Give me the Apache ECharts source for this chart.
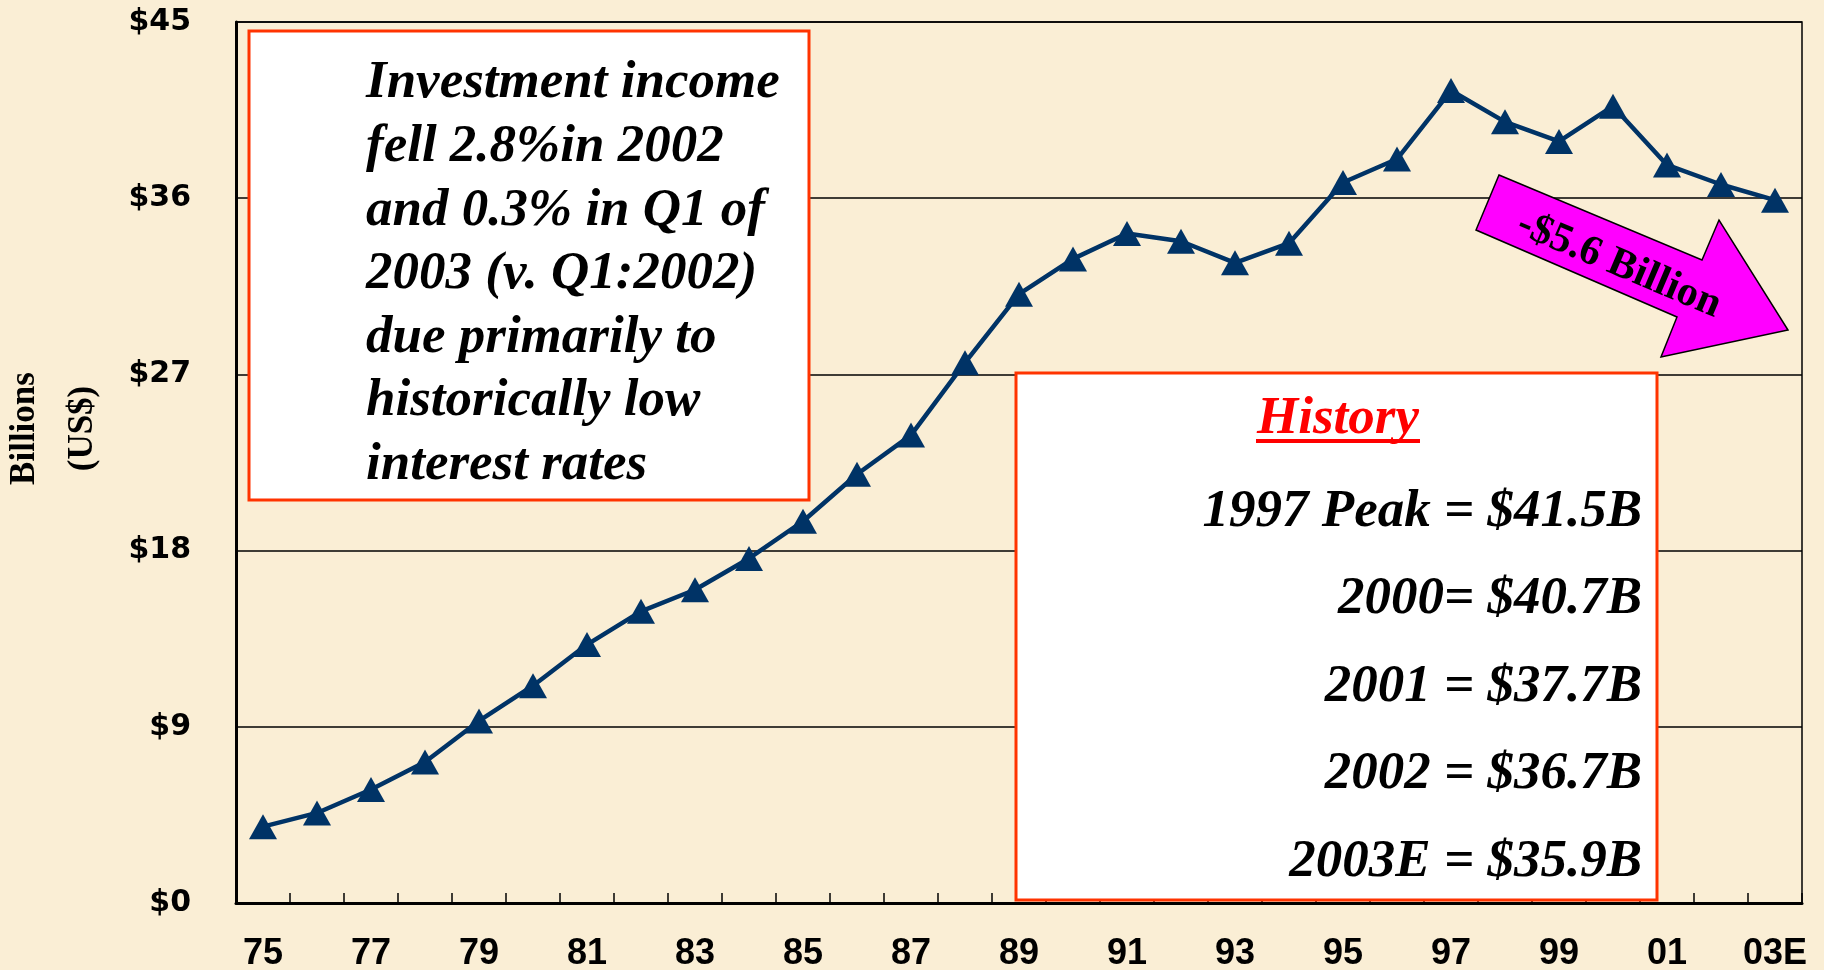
<!DOCTYPE html>
<html>
<head>
<meta charset="utf-8">
<title>Investment income</title>
<script src="https://cdn.jsdelivr.net/npm/echarts@6/dist/echarts.min.js"></script>
<style>
    html, body { margin: 0; padding: 0; background: #faeed5; }
    #chart { width: 1824px; height: 970px; }
</style>
</head>
<body>
<div id="chart"></div>
<script>
// years on the x axis
var years = ['75', '76', '77', '78', '79', '80', '81', '82', '83', '84', '85', '86', '87', '88', '89',
    '90', '91', '92', '93', '94', '95', '96', '97', '98', '99', '00', '01', '02', '03E'];
// investment income, billions US$
var income = [3.9, 4.6, 5.8, 7.2, 9.3, 11.1, 13.2, 14.9, 16.0, 17.6, 19.5, 21.9, 23.9, 27.6, 31.1,
    32.9, 34.2, 33.8, 32.7, 33.7, 36.8, 38.0, 41.5, 39.9, 38.9, 40.7, 37.7, 36.7, 35.9];
// y axis ticks
var yTicks = [0, 9, 18, 27, 36, 45];

// text of the two boxes
var noteLines = ['Investment income', 'fell 2.8%in 2002', 'and 0.3% in Q1 of', '2003 (v. Q1:2002)',
    'due primarily to', 'historically low', 'interest rates'];
var historyLines = ['1997 Peak = $41.5B', '2000= $40.7B', '2001 = $37.7B', '2002 = $36.7B', '2003E = $35.9B'];

var chart = echarts.init(document.getElementById('chart'));

var serifBI = 'italic bold 53px "Liberation Serif", "Times New Roman", serif';

// history lines, right aligned
var historyEls = [];
for (var i = 0; i < historyLines.length; i++) {
    historyEls.push({
        type: 'text',
        z: 110,
        style: {
            text: historyLines[i],
            x: 1642,
            y: 512 + i * 87.5,
            font: serifBI,
            fill: '#000',
            align: 'right',
            verticalAlign: 'middle',
            textAlign: 'right',
            textVerticalAlign: 'middle'
        }
    });
}

var option = {
    backgroundColor: '#faeed5',
    animation: false,
    grid: {
        left: 236,
        right: 22,
        top: 22,
        bottom: 67,
        outerBoundsMode: 'none',
        containLabel: false,
        show: true,
        borderColor: '#000',
        borderWidth: 1.5
    },
    xAxis: {
        type: 'category',
        data: years,
        boundaryGap: true,
        axisLine: { lineStyle: { color: '#000', width: 3 } },
        axisTick: { show: true, inside: true, length: 10, interval: 0, lineStyle: { color: '#000', width: 1.5 } },
        axisLabel: {
            interval: 1,
            margin: 33,
            color: '#000',
            fontFamily: '"Liberation Sans", Arial, sans-serif',
            fontWeight: 'bold',
            fontSize: 36,
            lineHeight: 36
        }
    },
    yAxis: {
        type: 'value',
        min: yTicks[0],
        max: yTicks[yTicks.length - 1],
        interval: yTicks[1] - yTicks[0],
        name: 'Billions\n(US$)',
        nameLocation: 'middle',
        nameRotate: 90,
        nameGap: 124,
        nameTextStyle: {
            color: '#000',
            fontFamily: '"Liberation Serif", "Times New Roman", serif',
            fontWeight: 'bold',
            fontSize: 35,
            lineHeight: 58,
            // lift the name a little above the axis middle
            padding: [0, 0, 0, 68]
        },
        axisLine: { show: true, lineStyle: { color: '#000', width: 3 } },
        axisTick: { show: false },
        splitLine: { lineStyle: { color: '#000', width: 1.5 } },
        axisLabel: {
            margin: 45,
            color: '#000',
            fontFamily: '"DejaVu Sans", sans-serif',
            fontWeight: 'bold',
            fontSize: 30,
            formatter: function (v) { return '$' + v; }
        }
    },
    series: [{
        name: 'Investment income',
        type: 'line',
        data: income,
        z: 5,
        symbol: 'triangle',
        symbolSize: [28, 25],
        itemStyle: { color: '#003366' },
        lineStyle: { color: '#003366', width: 4.5 }
    }],
    graphic: [
        // left note box
        {
            type: 'rect',
            z: 100,
            shape: { x: 249, y: 31, width: 560, height: 469 },
            style: { fill: '#fff', stroke: '#ff3300', lineWidth: 3 }
        },
        {
            type: 'text',
            z: 110,
            style: {
                text: noteLines.join('\n'),
                x: 366,
                y: 52,
                font: serifBI,
                lineHeight: 63.6,
                fill: '#000',
                align: 'left',
                verticalAlign: 'top',
                textAlign: 'left',
                textVerticalAlign: 'top'
            }
        },
        // history box
        {
            type: 'rect',
            z: 100,
            shape: { x: 1016, y: 373, width: 641, height: 527 },
            style: { fill: '#fff', stroke: '#ff3300', lineWidth: 3 }
        },
        {
            type: 'text',
            z: 110,
            style: {
                text: 'History',
                x: 1338,
                y: 419,
                font: serifBI,
                fill: '#ff0000',
                align: 'center',
                verticalAlign: 'middle',
                textAlign: 'center',
                textVerticalAlign: 'middle'
            }
        },
        {
            type: 'line',
            z: 110,
            shape: { x1: 1256, y1: 441, x2: 1420, y2: 441 },
            style: { stroke: '#ff0000', lineWidth: 4 }
        }
    ].concat(historyEls).concat([
        // magenta arrow
        {
            type: 'polygon',
            z: 100,
            shape: {
                points: [[1499, 175], [1702, 260], [1719, 220], [1788, 330], [1661, 357], [1677, 317], [1476, 230]]
            },
            style: { fill: '#ff00ff', stroke: '#000', lineWidth: 1.5 }
        },
        {
            type: 'text',
            z: 110,
            x: 1619,
            y: 265,
            rotation: -23 * Math.PI / 180,
            style: {
                text: '-$5.6 Billion',
                x: 0,
                y: 0,
                font: 'bold 42px "Liberation Serif", "Times New Roman", serif',
                fill: '#000',
                align: 'center',
                verticalAlign: 'middle',
                textAlign: 'center',
                textVerticalAlign: 'middle'
            }
        }
    ])
};

chart.setOption(option);
</script>
</body>
</html>
